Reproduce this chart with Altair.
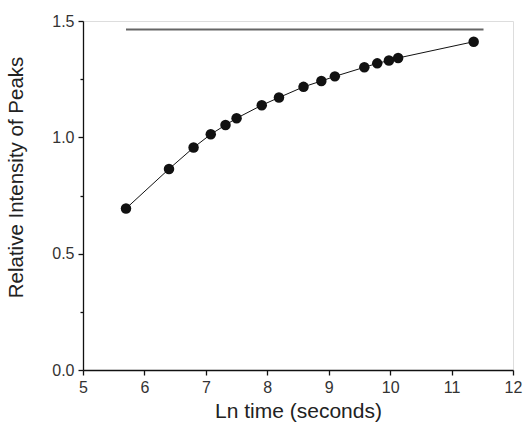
import altair as alt
import pandas as pd

ln_time = [5.70, 6.40, 6.80, 7.08, 7.32, 7.50, 7.91, 8.19, 8.59, 8.88, 9.10, 9.58, 9.79, 9.98, 10.13, 11.36]
intensity = [0.694, 0.864, 0.956, 1.013, 1.053, 1.082, 1.138, 1.171, 1.217, 1.242, 1.262, 1.301, 1.318, 1.330, 1.341, 1.411]

limit_x_start = [5.70]
limit_x_end = [11.52]
limit_y = [1.464]

x_ticks = [5, 5.5, 6, 6.5, 7, 7.5, 8, 8.5, 9, 9.5, 10, 10.5, 11, 11.5, 12]
y_ticks = [0.0, 0.25, 0.5, 0.75, 1.0, 1.25, 1.5]

df = pd.DataFrame({"x": ln_time, "y": intensity})
lim = pd.DataFrame({"x": limit_x_start, "x2": limit_x_end, "y": limit_y})

FONT = "Liberation Sans"

xscale = alt.Scale(domain=[5, 12], nice=False, zero=False)
yscale = alt.Scale(domain=[0, 1.5], nice=False)

xaxis = alt.Axis(
    values=x_ticks,
    title="Ln time (seconds)",
    grid=False,
    domainColor="#111",
    domainWidth=1.3,
    tickColor="#111",
    tickWidth=1.3,
    tickSize={"condition": {"test": "datum.value % 1 === 0", "value": 5}, "value": 3},
    labelExpr="datum.value % 1 === 0 ? format(datum.value, 'd') : ''",
    labelFont=FONT,
    labelFontSize=16,
    labelColor="#333",
    labelPadding=4,
    labelFlush=False,
    labelOverlap=False,
    titleFont=FONT,
    titleFontSize=21,
    titleFontWeight="normal",
    titleColor="#222",
    titlePadding=5,
)

yaxis = alt.Axis(
    values=y_ticks,
    title="Relative Intensity of Peaks",
    grid=False,
    domainColor="#111",
    domainWidth=1.3,
    tickColor="#111",
    tickWidth=1.3,
    tickSize={"condition": {"test": "datum.value % 0.5 === 0", "value": 5}, "value": 3},
    labelExpr="datum.value % 0.5 === 0 ? format(datum.value, '.1f') : ''",
    labelFont=FONT,
    labelFontSize=16,
    labelColor="#333",
    labelPadding=4,
    labelFlush=False,
    labelOverlap=False,
    titleFont=FONT,
    titleFontSize=20.5,
    titleFontWeight="normal",
    titleColor="#222",
    titleX=-57,
    titleY=156,
)

base = alt.Chart(df)

line = base.mark_line(color="#111", strokeWidth=1).encode(
    x=alt.X("x:Q", scale=xscale, axis=xaxis),
    y=alt.Y("y:Q", scale=yscale, axis=yaxis),
)
pts = base.mark_circle(size=110, color="#111", opacity=1).encode(
    x=alt.X("x:Q", scale=xscale),
    y=alt.Y("y:Q", scale=yscale),
)
limit = alt.Chart(lim).mark_rule(color="#666", strokeWidth=2).encode(
    x=alt.X("x:Q", scale=xscale),
    x2="x2:Q",
    y=alt.Y("y:Q", scale=yscale),
)

chart = (
    alt.layer(limit, line, pts)
    .properties(
        width=430,
        height=349,
        autosize=alt.AutoSizeParams(type="none"),
        padding={"left": 83, "top": 21, "right": 10, "bottom": 57},
    )
    .configure_view(stroke=None)
    .configure(background="white")
)

chart.save("out.html", embed_options={"renderer": "svg", "actions": False})
